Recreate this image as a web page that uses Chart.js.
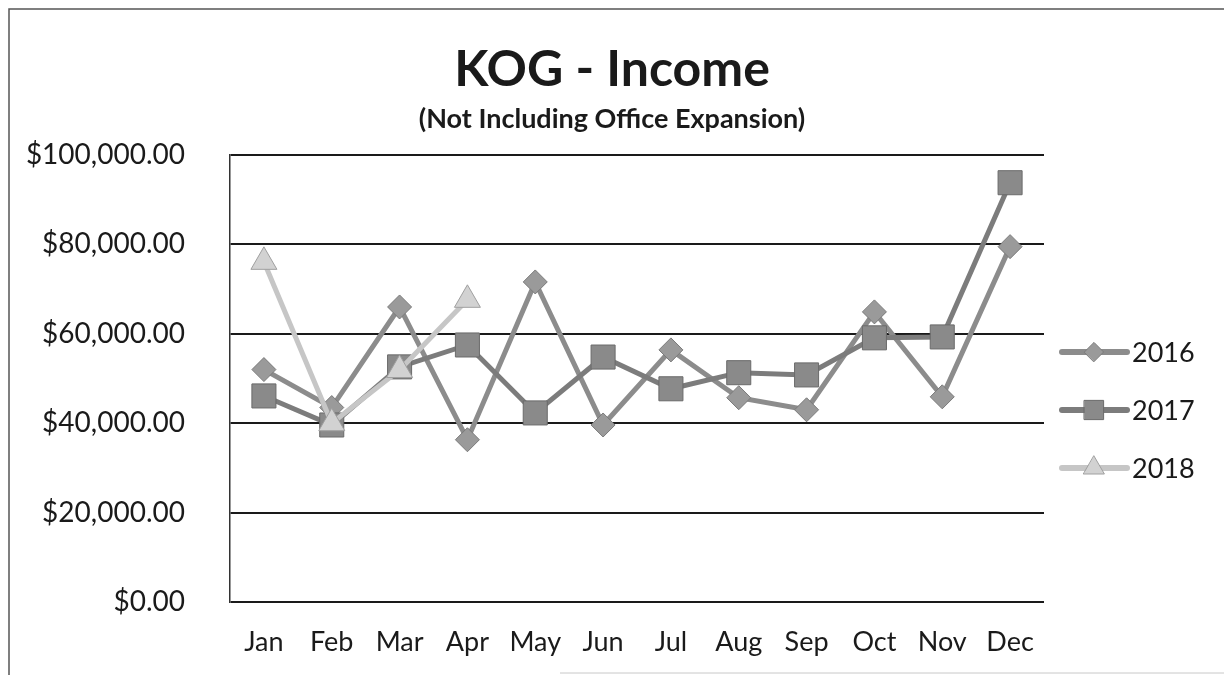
<!DOCTYPE html>
<html>
<head>
<meta charset="utf-8">
<script src="https://cdn.jsdelivr.net/npm/chart.js@4"></script>
<style>
  html, body { margin: 0; padding: 0; background: #fff; }
  #wrap { width: 1224px; height: 675px; position: relative; }
</style>
</head>
<body>
<div id="wrap"><canvas id="income-chart" width="1224" height="675"></canvas></div>
<script>
'use strict';

var months = ['Jan', 'Feb', 'Mar', 'Apr', 'May', 'Jun', 'Jul', 'Aug', 'Sep', 'Oct', 'Nov', 'Dec'];
var income2016 = [52000, 43500, 66000, 36300, 71600, 39600, 56400, 45700, 43000, 64900, 45900, 79500];
var income2017 = [46100, 39600, 52600, 57500, 42300, 54800, 47700, 51300, 50800, 59100, 59300, 93800];
var income2018 = [76100, 40000, 51900, 67600];
var yMin = 0, yMax = 100000, yStep = 20000;

var FONT = 'Lato, "Open Sans", sans-serif';

function money(v) {
  return '$' + Number(v).toLocaleString('en-US', { minimumFractionDigits: 2, maximumFractionDigits: 2 });
}

// Frame, titles and the line+marker legend on the right.
var decor = {
  id: 'decor',
  beforeDraw: function (chart) {
    var ctx = chart.ctx;
    ctx.save();
    ctx.fillStyle = '#fff';
    ctx.fillRect(0, 0, chart.width, chart.height);
    ctx.strokeStyle = '#555';
    ctx.lineWidth = 1.5;
    ctx.beginPath();
    ctx.moveTo(9, 675);
    ctx.lineTo(9, 9);
    ctx.lineTo(1224, 9);
    ctx.stroke();
    // faint page edge at the bottom of the scan
    ctx.strokeStyle = '#c8c8c8';
    ctx.lineWidth = 1;
    ctx.beginPath();
    ctx.moveTo(560, 673);
    ctx.lineTo(1224, 673);
    ctx.stroke();
    ctx.fillStyle = '#1a1a1a';
    ctx.textAlign = 'center';
    ctx.textBaseline = 'middle';
    ctx.font = 'bold 50px ' + FONT;
    ctx.fillText('KOG - Income', 612, 70);
    ctx.font = 'bold 27px ' + FONT;
    ctx.fillText('(Not Including Office Expansion)', 612, 119);
    ctx.restore();
  },
  afterDraw: function (chart) {
    var ctx = chart.ctx;
    ctx.save();
    chart.data.datasets.forEach(function (ds, i) {
      var y = 352 + i * 58;
      ctx.strokeStyle = ds.borderColor;
      ctx.lineWidth = 6;
      ctx.lineCap = 'round';
      ctx.beginPath();
      ctx.moveTo(1062, y);
      ctx.lineTo(1127, y);
      ctx.stroke();
      ctx.fillStyle = ds.pointBackgroundColor;
      ctx.strokeStyle = ds.pointBorderColor;
      ctx.lineWidth = 1;
      Chart.helpers.drawPoint(ctx, {
        pointStyle: ds.pointStyle,
        radius: ds.pointRadius * 0.8,
        rotation: 0,
        borderWidth: 1
      }, 1094, y);
      ctx.fillStyle = '#1a1a1a';
      ctx.font = '27px ' + FONT;
      ctx.textAlign = 'left';
      ctx.textBaseline = 'middle';
      ctx.fillText(ds.label, 1132, y + 1);
    });
    ctx.restore();
  }
};

new Chart(document.getElementById('income-chart'), {
  type: 'line',
  data: {
    labels: months,
    datasets: [
      {
        label: '2016', data: income2016, order: 3,
        borderColor: '#8c8c8c', borderWidth: 5,
        pointStyle: 'rectRot', pointRadius: 12,
        pointBackgroundColor: '#9a9a9a', pointBorderColor: '#7a7a7a', pointBorderWidth: 1
      },
      {
        label: '2017', data: income2017, order: 2,
        borderColor: '#7c7c7c', borderWidth: 5,
        pointStyle: 'rect', pointRadius: 17,
        pointBackgroundColor: '#8a8a8a', pointBorderColor: '#6a6a6a', pointBorderWidth: 1
      },
      {
        label: '2018', data: income2018, order: 1,
        borderColor: '#c6c6c6', borderWidth: 5,
        pointStyle: 'triangle', pointRadius: 15,
        pointBackgroundColor: '#d2d2d2', pointBorderColor: '#a0a0a0', pointBorderWidth: 1
      }
    ]
  },
  options: {
    responsive: false,
    animation: false,
    layout: { padding: { left: 0, right: 180, top: 155, bottom: 0 } },
    plugins: {
      legend: { display: false },
      tooltip: { enabled: false },
      title: { display: false }
    },
    scales: {
      x: {
        offset: true,
        grid: { display: false, drawTicks: false },
        border: { display: false },
        ticks: { color: '#1a1a1a', font: { family: FONT, size: 27 }, padding: 24, maxRotation: 0 },
        afterFit: function (s) { s.height = 73; }
      },
      y: {
        min: yMin, max: yMax,
        grid: { color: '#1a1a1a', lineWidth: 2, drawTicks: false },
        border: { display: true, color: '#333', width: 1.5 },
        ticks: {
          stepSize: yStep, color: '#1a1a1a', padding: 45,
          font: { family: FONT, size: 28 },
          callback: function (v) { return money(v); }
        },
        afterFit: function (s) { s.width = 230; }
      }
    }
  },
  plugins: [decor]
});
</script>
</body>
</html>
